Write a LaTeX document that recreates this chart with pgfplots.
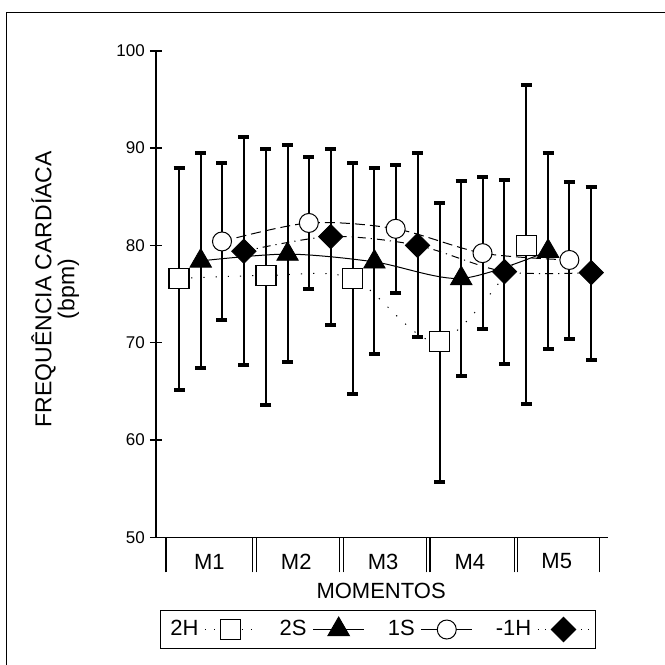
\documentclass[border=0pt]{standalone}
\usepackage{pgfplots}
\usepackage{pgfplotstable}
\pgfplotsset{compat=1.18}
\usepackage{fontspec}
\setmainfont{Liberation Sans}

% x = category index + offset; y = mean; ep/em = upper/lower error
\pgfplotstableread{
x      y     ep    em
0.65   76.6  11.3  11.5
1.65   76.9  13.0  13.3
2.65   76.6  11.9  11.9
3.65   70.1  14.3  14.4
4.65   80.0  16.5  16.3
}\hH
\pgfplotstableread{
x      y     ep    em
0.90   78.4  11.1  11.0
1.90   79.1  11.2  11.1
2.90   78.3   9.6   9.5
3.90   76.6  10.0  10.0
4.90   79.4  10.1  10.1
}\sS
\pgfplotstableread{
x      y     ep    em
1.145  80.4   8.1   8.1
2.145  82.3   6.8   6.8
3.145  81.7   6.6   6.6
4.145  79.2   7.8   7.8
5.145  78.5   8.0   8.1
}\oS
\pgfplotstableread{
x      y     ep    em
1.397  79.4  11.7  11.7
2.397  80.9   9.0   9.1
3.397  80.0   9.5   9.4
4.397  77.3   9.4   9.5
5.397  77.2   8.8   9.0
}\mH

\begin{document}
\begin{tikzpicture}[x=1pt,y=1pt]
\useasboundingbox (0,0) rectangle (332.5,-332.5);
\draw[line width=0.65pt] (3.35,-332.5) -- (3.35,-6.15) -- (332.5,-6.15);
\begin{axis}[
  at={(78pt,-268.65pt)}, anchor=south west,
  scale only axis, width=226pt, height=243.3pt,
  xmin=0.385, xmax=5.59, ymin=50, ymax=100,
  axis x line*=bottom, axis y line*=left,
  axis line style={line width=0.8pt, black},
  ytick={50,60,...,100},
  major tick length=6.2pt,
  tick align=center,
  tick style={line width=0.8pt, black},
  yticklabel style={font=\fontsize{8.5}{9}\selectfont, xshift=1pt},
  /pgf/number format/assume math mode=true,
  xtick={1,2,3,4,5},
  xticklabels={M1,M2,M3,M4,M5},
  xtick style={draw=none},
  xticklabel style={font=\fontsize{11}{12}\selectfont, anchor=center, yshift=-9pt},
  extra x ticks={0.5,1.5,1.54,2.5,2.54,3.5,3.54,4.51,4.55,5.49},
  extra x tick labels={},
  extra x tick style={major tick length=17.5pt, tick align=outside, xtick style={draw=black, line width=0.6pt}},
  xlabel={MOMENTOS},
  xlabel style={font=\fontsize{11}{12}\selectfont, at={(axis description cs:0.498,-0.11)}, anchor=center},
  ylabel={FREQUÊNCIA CARDÍACA\\(bpm)},
  ylabel style={font=\fontsize{11.5}{8.5}\selectfont, align=center, at={(axis description cs:-0.223,0.51)}, anchor=center},
  legend columns=4,
  legend plot pos=right,
  legend style={at={(axis description cs:0.491,-0.1895)}, anchor=center, draw=black, line width=0.8pt,
     font=\fontsize{11}{12}\selectfont, inner sep=3pt,
     /tikz/every odd column/.append style={column sep=1pt},
     /tikz/every even column/.append style={column sep=9.5pt}},
  legend image code/.code={\draw[mark repeat=2,mark phase=2] plot coordinates {(0cm,0cm) (0.45cm,0cm) (0.9cm,0cm)};},
  error bars/y dir=both, error bars/y explicit,
  error bars/error mark=|,
  error bars/error bar style={solid, line width=1pt, black},
  error bars/error mark options={solid, line width=2pt, mark size=2.75pt, black},
]
% connecting lines
\addplot[forget plot, black, line width=0.5pt, smooth, dash pattern=on 0.6pt off 5.5pt] table[x=x,y=y] {\hH};
\addplot[forget plot, black, line width=0.5pt, smooth] table[x=x,y=y] {\sS};
\addplot[forget plot, black, line width=0.5pt, smooth, dash pattern=on 5pt off 2.5pt] table[x=x,y=y] {\oS};
\addplot[forget plot, black, line width=0.5pt, smooth, dash pattern=on 4pt off 2.5pt on 0.6pt off 2.5pt] table[x=x,y=y] {\mH};
% markers with error bars
\addplot[forget plot, only marks, black, mark=square*, mark size=5pt, mark options={solid, fill=white, line width=0.8pt}]
  table[x=x,y=y,y error plus=ep,y error minus=em] {\hH};
\addplot[forget plot, only marks, black, mark=triangle*, mark size=6.2pt, mark options={solid, fill=black}]
  table[x=x,y=y,y error plus=ep,y error minus=em] {\sS};
\addplot[forget plot, only marks, black, mark=*, mark size=4.75pt, mark options={solid, fill=white, line width=0.5pt}]
  table[x=x,y=y,y error plus=ep,y error minus=em] {\oS};
\addplot[forget plot, only marks, black, mark=square*, mark size=4.3pt, mark options={solid, fill=black, rotate=45}]
  table[x=x,y=y,y error plus=ep,y error minus=em] {\mH};
% legend
\addlegendimage{black, line width=0.5pt, dash pattern=on 0.6pt off 4pt, mark=square*, mark size=5pt, mark options={solid, fill=white, line width=0.8pt}}
\addlegendentry{2H}
\addlegendimage{black, line width=0.5pt, mark=triangle*, mark size=6.2pt, mark options={solid, fill=black}}
\addlegendentry{2S}
\addlegendimage{black, line width=0.5pt, mark=*, mark size=4.75pt, mark options={solid, fill=white, line width=0.5pt}}
\addlegendentry{1S}
\addlegendimage{black, line width=0.5pt, dash pattern=on 0.6pt off 3pt, mark=square*, mark size=4.3pt, mark options={solid, fill=black, rotate=45}}
\addlegendentry{-1H}
\end{axis}
\end{tikzpicture}
\end{document}
